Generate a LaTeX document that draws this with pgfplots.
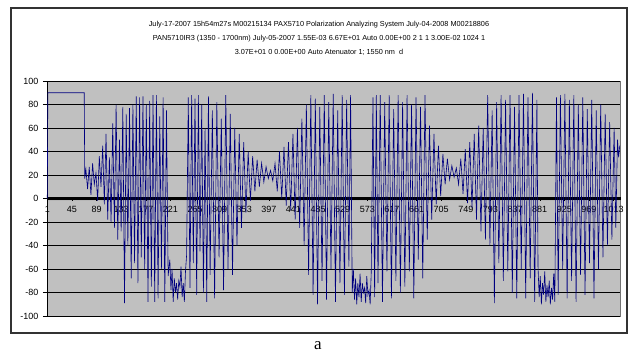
\documentclass[border=0pt]{standalone}
\usepackage{fontspec}
\setmainfont{Liberation Sans}
\newfontfamily\serifa{Liberation Serif}
\usepackage{pgfplots}
\pgfplotsset{compat=1.18}
\definecolor{plotgray}{HTML}{C0C0C0}
\definecolor{navyline}{HTML}{000080}
\begin{document}
\begin{tikzpicture}[x=1pt,y=1pt]
\path[use as bounding box] (0,0) rectangle (631,360);
\fill[white] (0,0) rectangle (631,360);
\draw[line width=1.4pt, color=black!80] (11,27) rectangle (627,352);
\node[font=\fontsize{7.3}{14}\selectfont, align=center] at (319,322) {July-17-2007 15h54m27s M00215134 PAX5710 Polarization Analyzing System July-04-2008 M00218806\\PAN5710IR3 (1350 - 1700nm) July-05-2007 1.55E-03 6.67E+01 Auto 0.00E+00 2 1 1 3.00E-02 1024 1\\3.07E+01 0 0.00E+00 Auto Atenuator 1; 1550 nm\ \ d};
\node[font=\serifa\fontsize{17}{19}\selectfont] at (318,14) {a};
\begin{axis}[at={(47pt,44pt)}, anchor=south west, width=573pt, height=235pt, scale only axis,
  xmin=0.5, xmax=1024.5, ymin=-100, ymax=100,
  axis background/.style={fill=plotgray, draw=black!55, line width=0.8pt},
  axis x line*=middle, axis y line*=left,
  axis line style={black, line width=0.9pt},
  xtick={1,45,89,133,177,221,265,309,353,397,441,485,529,573,617,661,705,749,793,837,881,925,969,1013},
  xticklabels={1,45,89,133,177,221,265,309,353,397,441,485,529,573,617,661,705,749,793,837,881,925,969,1013},
  minor xtick={1,2,...,1024},
  xtick align=center, ytick align=outside,
  major tick length=4pt, minor tick length=3.5pt,
  xtick style={black, line width=0.3pt}, minor tick style={black, line width=0.3pt},
  ytick={-100,-80,...,100},
  yticklabels={-100,-80,-60,-40,-20,0,20,40,60,80,100},
  ytick style={black, line width=0.7pt},
  ymajorgrids=true, grid style={black, line width=0.7pt},
  tick label style={font=\fontsize{9}{10}\selectfont},
  xticklabel style={yshift=-2pt},
  yticklabel style={xshift=-1pt},
  clip=false]
\addplot[navyline, line width=0.6pt, mark=none] coordinates {
(1,0)(2,90)(67,90)(68,17)
(70,25)(73,8)(76,27)(79,3)(82,30)(85,12)(88,22)(91,-2)(94,36)(97,10)(100,45)(103,-5)(106,55)(109,-18)(112,35)(115,-20)(118,64)(121,-25)(124,80)(127,-35)(130,50)(133,-28)(136,78)(139,-89)(142,72)(145,-40)(148,77)(151,-68)(154,80)(157,-55)(160,87)(163,-72)(166,86)(169,-50)(172,87)(175,-60)(178,80)(181,-88)(184,83)(187,-75)(190,88)(193,-88)(196,88)(199,-85)(202,70)(205,-60)(208,86)(211,-88)(214,75)(217,-66)
(220,-52)(222,-78)(224,-60)(226,-88)(228,-68)(230,-80)(232,-72)(234,-86)(236,-70)(238,-75)(240,-58)(242,-84)(244,-72)(246,-88)(248,-62)
(250,-48)(253,86)(256,-76)(259,88)(262,-55)(265,85)(268,-82)(271,88)(274,-45)(277,80)(280,-80)(283,60)(286,-88)(289,87)(292,-65)(296,75)(300,-85)(304,82)(308,-50)(312,68)(316,-78)(320,88)(324,-60)(328,72)(332,-65)(336,60)(340,-40)(344,55)(348,-25)(352,48)(356,-12)(360,40)(364,-2)(368,36)(372,6)
(376,33)(380,10)(384,30)(388,14)(392,27)(396,17)(400,24)(404,15)(408,30)(412,6)
(416,40)(420,0)(424,44)(428,-6)(432,48)(436,-10)(440,55)(444,-18)(448,60)(452,-25)(456,68)(460,-40)(464,80)(468,-65)(472,88)(476,-82)(480,85)(484,-90)(488,78)(492,-70)
(496,88)(500,-86)(504,82)(508,-60)(512,89)(516,-88)(520,75)(524,-72)(528,88)(532,-82)(536,84)(540,-58)(543,88)(546,-80)
(548,-60)(550,-86)(552,-68)(554,-90)(556,-72)(558,-84)(560,-64)(562,-88)(564,-72)(566,-80)(568,-76)(570,-89)(572,-66)(574,-82)(576,-78)(578,-90)(580,-62)
(583,86)(586,-84)(589,88)(592,-72)(596,88)(600,-88)(604,82)(608,-62)(612,88)(616,-85)(620,76)(624,-70)(628,88)(632,-80)(636,82)(640,-75)(644,88)(648,-62)(652,80)(656,-85)(660,86)(664,-52)(668,78)(672,-68)(676,88)(680,-35)(684,62)(688,-18)(692,55)(696,-5)(700,45)(704,2)
(708,38)(712,12)(716,34)(720,16)(724,28)(728,18)(732,26)(736,12)(740,34)(744,4)
(748,42)(752,-4)(756,48)(760,-8)(764,55)(768,-18)(772,62)(776,-28)(780,60)(784,-35)(788,88)(792,-40)(796,75)(800,-89)(804,82)(808,-55)(812,88)(816,-70)(820,84)(824,-62)(828,88)(832,-80)(836,78)(840,-85)(844,88)(848,-60)(852,89)(856,-85)(860,86)(864,-68)(868,90)(872,-88)(876,84)
(878,-58)(880,-84)(882,-66)(884,-90)(886,-72)(888,-82)(890,-62)(892,-88)(894,-74)(896,-84)(898,-70)(900,-90)(902,-76)(904,-86)(906,-64)(908,-88)
(911,86)(914,-82)(918,88)(922,-60)(926,89)(930,-85)(934,84)(938,-70)(942,88)(946,-88)(950,80)(954,-65)(958,86)(962,-82)(966,76)(970,-55)(974,84)(978,-85)(982,75)(986,-60)(990,80)(994,-50)(998,72)(1002,-40)(1006,65)(1010,-35)(1014,60)(1017,-25)(1020,50)(1022,35)(1024,45)
};
\end{axis}
\end{tikzpicture}
\end{document}
